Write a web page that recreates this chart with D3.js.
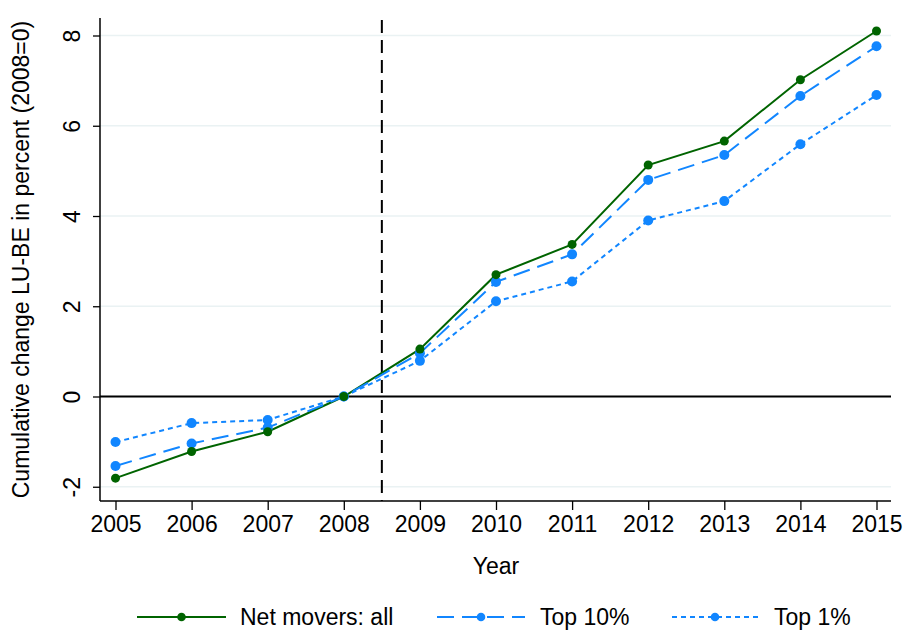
<!DOCTYPE html>
<html>
<head>
<meta charset="utf-8">
<script src="https://cdn.jsdelivr.net/npm/d3@7"></script>
<style>
  html, body { margin: 0; padding: 0; background: #fff; }
  svg { display: block; font-family: "Liberation Sans", Arial, sans-serif; }
</style>
</head>
<body>
<svg id="chart" width="906" height="631"></svg>
<script>
// Years on the x axis
const years = [2005, 2006, 2007, 2008, 2009, 2010, 2011, 2012, 2013, 2014, 2015];

// Cumulative change LU-BE in percent, 2008 = 0
const netMoversAll = [-1.81, -1.22, -0.78, 0, 1.05, 2.70, 3.37, 5.13, 5.66, 7.02, 8.10];
const top10 = [-1.54, -1.04, -0.69, 0, 0.96, 2.54, 3.15, 4.80, 5.35, 6.66, 7.76];
const top1 = [-1.01, -0.59, -0.52, 0, 0.79, 2.11, 2.55, 3.90, 4.33, 5.59, 6.68];

const yTicks = [-2, 0, 2, 4, 6, 8];
const seriesNames = ["Net movers: all", "Top 10%", "Top 1%"];

const green = "#006400";
const blue = "#1186ff";
const gridColor = "#eaf2f3";
const fontSize = 23;

const series = [
  { name: seriesNames[0], values: netMoversAll, color: green, dash: null, r: 4.5, width: 2 },
  { name: seriesNames[1], values: top10, color: blue, dash: "17,8", r: 5, width: 2 },
  { name: seriesNames[2], values: top1, color: blue, dash: "5,4", r: 5, width: 2 }
];

const svg = d3.select("#chart");

const plot = { left: 100, right: 891, top: 18, bottom: 501 };

const x = d3.scaleLinear().domain([2005, 2015]).range([115.5, 876.5]);
const y = d3.scaleLinear().domain([0, 8]).range([396.5, 35.5]);

// Plain hyphen-minus labels
const plainFormat = d => String(d);

// Horizontal grid lines
svg.append("g")
  .selectAll("line")
  .data(yTicks)
  .join("line")
  .attr("x1", plot.left)
  .attr("x2", plot.right)
  .attr("y1", d => y(d))
  .attr("y2", d => y(d))
  .attr("stroke", gridColor)
  .attr("stroke-width", 1.5);

// Reference line at zero
svg.append("line")
  .attr("x1", plot.left)
  .attr("x2", plot.right)
  .attr("y1", y(0))
  .attr("y2", y(0))
  .attr("stroke", "#000")
  .attr("stroke-width", 2);

// Vertical dashed line between 2008 and 2009
svg.append("line")
  .attr("x1", x(2008.5))
  .attr("x2", x(2008.5))
  .attr("y1", plot.top + 2)
  .attr("y2", plot.bottom)
  .attr("stroke", "#000")
  .attr("stroke-width", 2)
  .attr("stroke-dasharray", "13,7");

// Y axis
const yAxis = d3.axisLeft(y).tickValues(yTicks).tickSize(7).tickPadding(13).tickFormat(plainFormat);
const gy = svg.append("g").attr("transform", `translate(${plot.left},0)`).call(yAxis);
gy.select(".domain").remove();
gy.append("line")
  .attr("x1", 0).attr("x2", 0)
  .attr("y1", plot.top).attr("y2", plot.bottom)
  .attr("stroke", "#000").attr("stroke-width", 1.5);
gy.selectAll(".tick line").attr("stroke", "#000").attr("stroke-width", 1.3);
gy.selectAll(".tick text")
  .attr("font-size", fontSize)
  .attr("font-family", "Liberation Sans, Arial, sans-serif")
  .attr("fill", "#000")
  .attr("x", null).attr("dy", null)
  .attr("text-anchor", "middle")
  .attr("transform", "translate(-20,0) rotate(-90)");

// X axis
const xAxis = d3.axisBottom(x).tickValues(years).tickSize(9).tickPadding(5).tickFormat(plainFormat);
const gx = svg.append("g").attr("transform", `translate(0,${plot.bottom})`).call(xAxis);
gx.select(".domain").remove();
gx.append("line")
  .attr("x1", plot.left).attr("x2", plot.right)
  .attr("y1", 0).attr("y2", 0)
  .attr("stroke", "#000").attr("stroke-width", 1.5);
gx.selectAll(".tick line").attr("stroke", "#000").attr("stroke-width", 1.3);
gx.selectAll(".tick text")
  .attr("font-size", fontSize)
  .attr("font-family", "Liberation Sans, Arial, sans-serif")
  .attr("fill", "#000")
  .attr("dy", null)
  .attr("y", 31);

// Axis titles
svg.append("text")
  .attr("x", 496)
  .attr("y", 574)
  .attr("text-anchor", "middle")
  .attr("font-size", fontSize)
  .text("Year");

svg.append("text")
  .attr("transform", `translate(29,${(plot.top + plot.bottom) / 2}) rotate(-90)`)
  .attr("text-anchor", "middle")
  .attr("font-size", fontSize)
  .text("Cumulative change LU-BE in percent (2008=0)");

// Series lines and markers
const line = d3.line().x((d, i) => x(years[i])).y(d => y(d));

series.forEach(s => {
  svg.append("path")
    .datum(s.values)
    .attr("d", line)
    .attr("fill", "none")
    .attr("stroke", s.color)
    .attr("stroke-width", s.width)
    .attr("stroke-dasharray", s.dash);
});

series.slice().reverse().forEach(s => {
  svg.append("g")
    .selectAll("circle")
    .data(s.values)
    .join("circle")
    .attr("cx", (d, i) => x(years[i]))
    .attr("cy", d => y(d))
    .attr("r", s.r)
    .attr("fill", s.color);
});

// Legend
const legendY = 617;
const legendItems = [
  { s: series[0], x0: 137, x1: 226, tx: 240 },
  { s: series[1], x0: 437, x1: 525, tx: 540 },
  { s: series[2], x0: 672, x1: 758, tx: 774 }
];
const lg = svg.append("g");
legendItems.forEach(it => {
  lg.append("line")
    .attr("x1", it.x0).attr("x2", it.x1)
    .attr("y1", legendY).attr("y2", legendY)
    .attr("stroke", it.s.color)
    .attr("stroke-width", 2)
    .attr("stroke-dasharray", it.s.dash);
  lg.append("circle")
    .attr("cx", (it.x0 + it.x1) / 2)
    .attr("cy", legendY)
    .attr("r", 4.3)
    .attr("fill", it.s.color);
  lg.append("text")
    .attr("x", it.tx)
    .attr("y", legendY + 8)
    .attr("font-size", fontSize)
    .text(it.s.name);
});
</script>
</body>
</html>
